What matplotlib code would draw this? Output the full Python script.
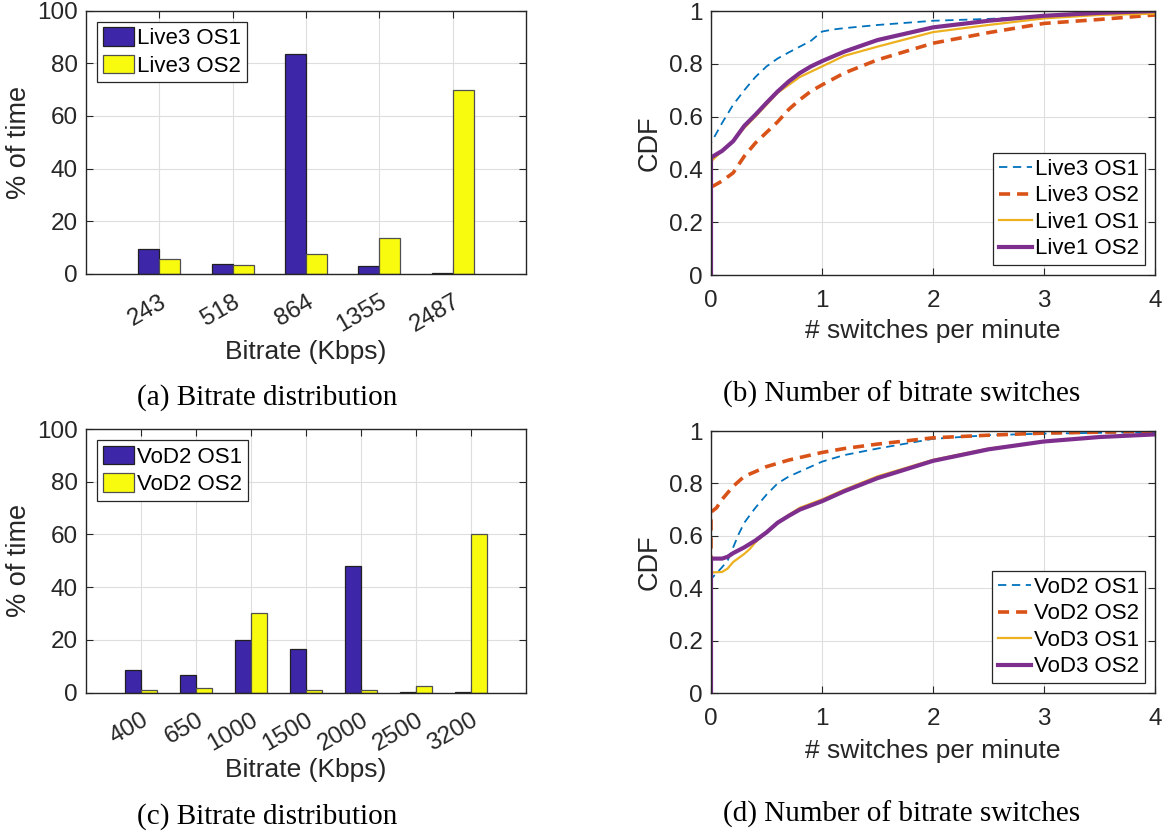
import numpy as np
import matplotlib
matplotlib.use("Agg")
import matplotlib.pyplot as plt

plt.rcParams['font.family'] = ['Liberation Sans', 'DejaVu Sans']
plt.rcParams['lines.scale_dashes'] = False

# bitrate distribution, live (a)
live_rates = ['243', '518', '864', '1355', '2487']
live3_os1 = [9.3, 3.7, 83.6, 3.2, 0.2]
live3_os2 = [5.8, 3.3, 7.7, 13.5, 69.7]

# bitrate distribution, vod (c)
vod_rates = ['400', '650', '1000', '1500', '2000', '2500', '3200']
vod2_os1 = [8.5, 6.7, 20.1, 16.6, 48.2, 0.1, 0.4]
vod2_os2 = [0.9, 1.6, 30.3, 1.1, 0.9, 2.7, 60.0]

# switch CDFs, live (b)
l3o1_x = [0, 0, 0.1, 0.2, 0.3, 0.4, 0.5, 0.6, 0.7, 0.8, 0.9, 1.0, 1.1, 1.2, 1.5, 2.0, 2.5, 3.0, 3.5, 4.0]
l3o1_y = [0, 0.50, 0.576, 0.645, 0.70, 0.75, 0.79, 0.82, 0.843, 0.865, 0.887, 0.922, 0.93, 0.935, 0.947, 0.963, 0.97, 0.98, 0.99, 0.997]
l3o2_x = [0, 0, 0.02, 0.1, 0.2, 0.3, 0.4, 0.5, 0.6, 0.7, 0.8, 0.9, 1.0, 1.2, 1.5, 2.0, 2.5, 3.0, 3.5, 4.0]
l3o2_y = [0, 0.34, 0.337, 0.356, 0.387, 0.45, 0.50, 0.54, 0.58, 0.627, 0.664, 0.696, 0.72, 0.765, 0.815, 0.878, 0.918, 0.953, 0.968, 0.985]
l1o1_x = [0, 0, 0.1, 0.2, 0.3, 0.4, 0.5, 0.6, 0.7, 0.8, 0.9, 1.0, 1.2, 1.5, 2.0, 2.5, 3.0, 3.5, 4.0]
l1o1_y = [0, 0.43, 0.47, 0.507, 0.557, 0.60, 0.645, 0.69, 0.72, 0.75, 0.77, 0.79, 0.83, 0.865, 0.92, 0.947, 0.972, 0.985, 0.99]
l1o2_x = [0, 0, 0.1, 0.2, 0.3, 0.4, 0.5, 0.6, 0.7, 0.8, 0.9, 1.0, 1.2, 1.5, 2.0, 2.5, 3.0, 3.5, 4.0]
l1o2_y = [0, 0.445, 0.47, 0.507, 0.565, 0.607, 0.652, 0.695, 0.733, 0.765, 0.79, 0.81, 0.846, 0.89, 0.938, 0.963, 0.982, 0.993, 1.0]

# switch CDFs, vod (d)
v2o1_x = [0, 0, 0.1, 0.15, 0.2, 0.25, 0.3, 0.4, 0.5, 0.6, 0.7, 0.8, 1.0, 1.2, 1.5, 2.0, 2.5, 3.0, 4.0]
v2o1_y = [0, 0.435, 0.48, 0.506, 0.556, 0.607, 0.65, 0.707, 0.757, 0.80, 0.826, 0.845, 0.883, 0.908, 0.933, 0.97, 0.984, 0.99, 0.996]
v2o2_x = [0, 0, 0.05, 0.1, 0.2, 0.3, 0.4, 0.5, 0.7, 1.0, 1.2, 1.5, 2.0, 2.5, 3.0, 4.0]
v2o2_y = [0, 0.69, 0.707, 0.739, 0.789, 0.827, 0.845, 0.864, 0.889, 0.918, 0.933, 0.95, 0.974, 0.984, 0.992, 0.999]
v3o1_x = [0, 0, 0.1, 0.15, 0.2, 0.3, 0.35, 0.4, 0.5, 0.6, 0.7, 0.8, 1.0, 1.2, 1.5, 2.0, 2.5, 3.0, 3.5, 4.0]
v3o1_y = [0, 0.46, 0.462, 0.475, 0.50, 0.531, 0.55, 0.575, 0.613, 0.65, 0.68, 0.707, 0.739, 0.776, 0.827, 0.89, 0.933, 0.96, 0.977, 0.987]
v3o2_x = [0, 0, 0.1, 0.15, 0.2, 0.3, 0.4, 0.5, 0.6, 0.7, 0.8, 1.0, 1.2, 1.5, 2.0, 2.5, 3.0, 3.5, 4.0]
v3o2_y = [0, 0.513, 0.513, 0.52, 0.534, 0.556, 0.582, 0.613, 0.65, 0.676, 0.70, 0.732, 0.77, 0.82, 0.886, 0.93, 0.96, 0.977, 0.987]

BLUE_BAR = '#3e26a8'
YELLOW_BAR = '#f9fb0e'
C_BLUE = '#0072bd'
C_ORANGE = '#d95319'
C_YELLOW = '#edb120'
C_PURPLE = '#7e2f8e'
AX_COL = '#262626'

fig = plt.figure(figsize=(11.71, 8.32), dpi=100)
W, H = 1171, 832


def add_ax(l, t, r, b):
    return fig.add_axes([l / W, 1 - b / H, (r - l) / W, (b - t) / H])


def style(ax):
    ax.grid(True, color='#dedede', lw=0.8)
    ax.set_axisbelow(True)
    for s in ax.spines.values():
        s.set_color(AX_COL)
        s.set_linewidth(1.0)
    ax.tick_params(direction='in', length=5, top=True, right=True,
                   color=AX_COL, labelcolor=AX_COL, labelsize=17.5, width=0.8)
    ax.tick_params(axis='y', pad=6)


def bar_panel(ax, cats, s1, s2, names):
    x = np.arange(1, len(cats) + 1)
    w = 0.286
    ax.bar(x - w / 2, s1, w, color=BLUE_BAR, edgecolor='#202020', lw=0.9, label=names[0])
    ax.bar(x + w / 2, s2, w, color=YELLOW_BAR, edgecolor='#505050', lw=0.9, label=names[1])
    ax.set_xlim(0, len(cats) + 1)
    ax.set_ylim(0, 100)
    ax.set_yticks([0, 20, 40, 60, 80, 100])
    ax.set_xticks(x)
    ax.set_xticklabels(cats, rotation=30, ha='right', va='top', rotation_mode='anchor')
    style(ax)
    ax.tick_params(axis='x', pad=12)
    ax.set_ylabel('% of time', fontsize=19.5, color=AX_COL)
    ax.set_xlabel('Bitrate (Kbps)', fontsize=19, color=AX_COL)
    ax.yaxis.set_label_coords(-0.123, 0.5)
    ax.xaxis.label.set_va('center')
    leg = ax.legend(loc='upper left', fontsize=16, fancybox=False, framealpha=1,
                    edgecolor=AX_COL, handlelength=1.4, handleheight=0.9,
                    handletextpad=0.15, labelspacing=0.25, borderpad=0.25,
                    borderaxespad=0.5)
    leg.get_frame().set_linewidth(0.9)


def cdf_panel(ax, series, names):
    styles = [
        dict(color=C_BLUE, lw=1.3, dashes=(6, 4)),
        dict(color=C_ORANGE, lw=2.6, dashes=(8, 5)),
        dict(color=C_YELLOW, lw=1.6),
        dict(color=C_PURPLE, lw=3.0),
    ]
    for (xs, ys), st, nm in zip(series, styles, names):
        ax.plot(xs, ys, label=nm, **st)
    ax.set_xlim(0, 4)
    ax.set_ylim(0, 1)
    ax.set_xticks([0, 1, 2, 3, 4])
    ax.set_yticks([0, 0.2, 0.4, 0.6, 0.8, 1])
    ax.set_yticklabels(['0', '0.2', '0.4', '0.6', '0.8', '1'])
    style(ax)
    ax.tick_params(axis='x', pad=11)
    ax.set_ylabel('CDF', fontsize=19.5, color=AX_COL)
    ax.set_xlabel('# switches per minute', fontsize=19, color=AX_COL)
    ax.yaxis.set_label_coords(-0.11, 0.5)
    ax.xaxis.label.set_va('center')
    leg = ax.legend(loc='lower right', fontsize=16, fancybox=False, framealpha=1,
                    edgecolor=AX_COL, handlelength=1.5, handletextpad=0.15,
                    labelspacing=0.25, borderpad=0.25, borderaxespad=0.45)
    leg.get_frame().set_linewidth(0.9)


ax_a = add_ax(86, 10.5, 526, 274)
bar_panel(ax_a, live_rates, live3_os1, live3_os2, ['Live3 OS1', 'Live3 OS2'])
ax_a.xaxis.set_label_coords(0.5, -0.295)

ax_b = add_ax(711, 11, 1155, 275)
cdf_panel(ax_b, [(l3o1_x, l3o1_y), (l3o2_x, l3o2_y), (l1o1_x, l1o1_y), (l1o2_x, l1o2_y)],
          ['Live3 OS1', 'Live3 OS2', 'Live1 OS1', 'Live1 OS2'])
ax_b.xaxis.set_label_coords(0.5, -0.212)

ax_c = add_ax(86, 429, 526, 692.7)
bar_panel(ax_c, vod_rates, vod2_os1, vod2_os2, ['VoD2 OS1', 'VoD2 OS2'])
ax_c.xaxis.set_label_coords(0.5, -0.295)

ax_d = add_ax(711, 431, 1155, 693)
cdf_panel(ax_d, [(v2o1_x, v2o1_y), (v2o2_x, v2o2_y), (v3o1_x, v3o1_y), (v3o2_x, v3o2_y)],
          ['VoD2 OS1', 'VoD2 OS2', 'VoD3 OS1', 'VoD3 OS2'])
ax_d.xaxis.set_label_coords(0.5, -0.22)

cap = dict(family=['Liberation Serif', 'DejaVu Serif'], fontsize=21, ha='center', va='center')
fig.text(267 / W, 1 - 398 / H, '(a) Bitrate distribution', **cap)
fig.text(902 / W, 1 - 394 / H, '(b) Number of bitrate switches', **cap)
fig.text(267 / W, 1 - 817 / H, '(c) Bitrate distribution', **cap)
fig.text(902 / W, 1 - 814 / H, '(d) Number of bitrate switches', **cap)

fig.savefig('out.png', dpi=100)
